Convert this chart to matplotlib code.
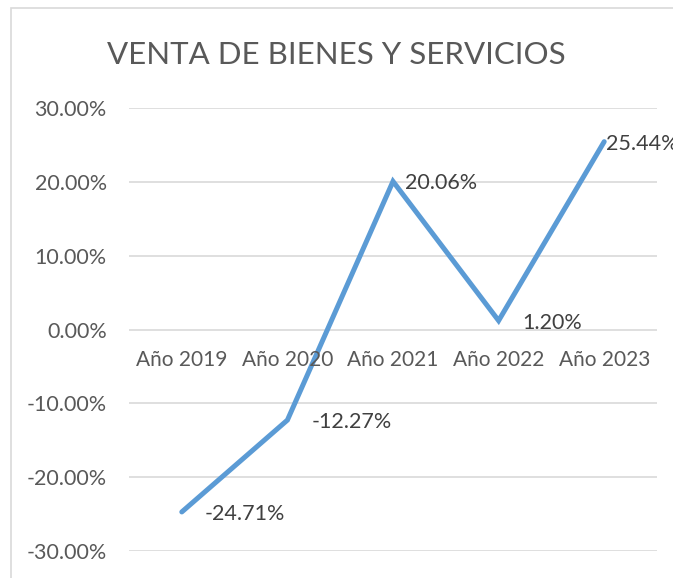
import matplotlib.pyplot as plt
from matplotlib.patches import Rectangle
from matplotlib.ticker import FuncFormatter

plt.rcParams['font.family'] = ['Lato', 'DejaVu Sans']

# datos
categorias = ['Año 2019', 'Año 2020', 'Año 2021', 'Año 2022', 'Año 2023']
valores = [-24.71, -12.27, 20.06, 1.20, 25.44]
yticks = [-30, -20, -10, 0, 10, 20, 30]

# desplazamiento horizontal de cada etiqueta de dato (px)
desp_x = [23, 24, 12, 24, 2]

W, H = 673, 578
fig = plt.figure(figsize=(W / 100, H / 100), dpi=100)

# borde del area del grafico (sigue fuera de la imagen a la derecha y abajo)
fig.patches.append(Rectangle((11 / W, -0.1), 1.2, 1 - 8 / H + 0.1, transform=fig.transFigure,
                             fill=False, edgecolor='#D9D9D9', linewidth=1.2))

ax = fig.add_axes([129 / W, 1 - 551 / H, (657 - 129) / W, (551 - 108) / H])
x = list(range(len(categorias)))

ax.plot(x, valores, color='#5B9BD5', linewidth=3.6, solid_capstyle='round',
        solid_joinstyle='miter', zorder=3)

ax.set_xlim(-0.5, len(categorias) - 0.5)
ax.set_ylim(-30, 30)
ax.set_yticks(yticks)
ax.yaxis.set_major_formatter(FuncFormatter(lambda v, p: f'{v:.2f}%'))
ax.tick_params(axis='y', length=0, pad=16, labelsize=15.5, labelcolor='#595959')
ax.set_xticks([])
ax.grid(axis='y', color='#D9D9D9', linewidth=1.2)
ax.set_axisbelow(True)
for s in ax.spines.values():
    s.set_visible(False)

# etiquetas de categoria sobre la linea del 0
for i, c in enumerate(categorias):
    ax.annotate(c, (i, 0), xytext=(0, -31), textcoords='offset pixels',
                ha='center', va='center', fontsize=15, color='#595959')

# etiquetas de datos a la derecha de cada punto
for i, v in enumerate(valores):
    ax.annotate(f'{v:.2f}%', (i, v), xytext=(desp_x[i], -2), textcoords='offset pixels',
                ha='left', va='center', fontsize=15.5, color='#404040',
                annotation_clip=False)

fig.text(336 / W, 1 - 55 / H, 'VENTA DE BIENES Y SERVICIOS', ha='center', va='center',
         fontsize=22.5, color='#595959')

fig.savefig('out.png', dpi=100)
